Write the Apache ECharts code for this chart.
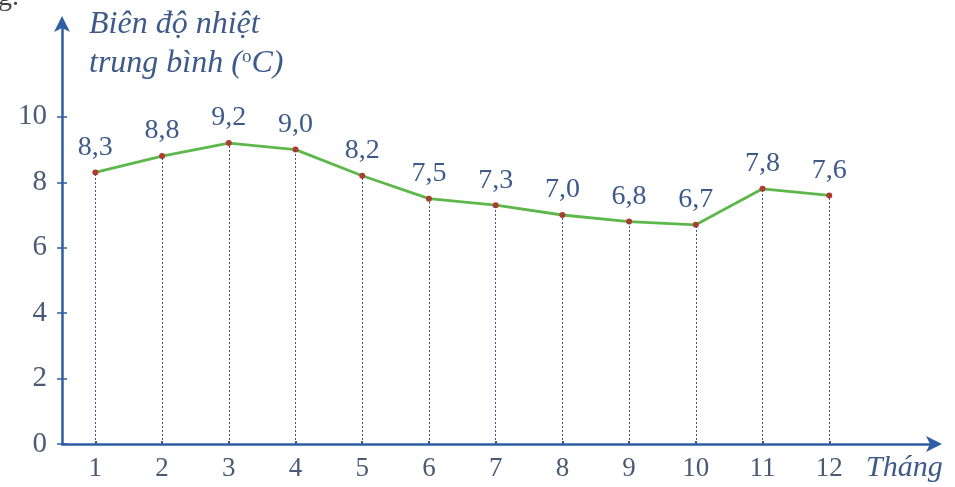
<!DOCTYPE html>
<html><head><meta charset="utf-8">
<script src="https://cdn.jsdelivr.net/npm/echarts@6/dist/echarts.min.js"></script>
<style>html,body{margin:0;padding:0;background:#fff}#c{width:955px;height:487px}</style>
</head><body><div id="c"></div>
<script>
const months = [1,2,3,4,5,6,7,8,9,10,11,12];
const amplitude = [8.3,8.8,9.2,9.0,8.2,7.5,7.3,7.0,6.8,6.7,7.8,7.6];
const yTicks = [0,2,4,6,8,10];
const yTitleLine1 = 'Biên độ nhiệt';
const xTitle = 'Tháng';

const axisColor = '#2f5ea3';
const textColor = '#3d5a8a';
const tickTextColor = '#4b5a74';
const serif = '"Liberation Serif","DejaVu Serif",serif';

const chart = echarts.init(document.getElementById('c'));
const pts = months.map((m,i)=>[m, amplitude[i]]);
const yCommon = {type:'value', min:0, max:12.9, splitLine:{show:false}};
chart.setOption({
  animation:false,
  grid:{left:62, right:19, top:22, bottom:43},
  xAxis:{type:'value', min:0.5, max:13.6,
    axisLine:{show:true, lineStyle:{color:axisColor, width:2.5}, symbol:['none','arrow'], symbolSize:[12,16], symbolOffset:[0,6]},
    axisTick:{show:true, customValues:months, length:3, inside:true, lineStyle:{color:axisColor, width:2}},
    axisLabel:{customValues:months, color:tickTextColor, fontFamily:serif, fontSize:27, margin:11},
    splitLine:{show:false}},
  yAxis:[Object.assign({}, yCommon, {
    axisLine:{show:true, lineStyle:{color:axisColor, width:2.5}, symbol:['none','arrow'], symbolSize:[12,16], symbolOffset:[0,6]},
    axisTick:{show:true, customValues:yTicks, length:5, lineStyle:{color:axisColor, width:1.5}},
    axisLabel:{customValues:yTicks, color:tickTextColor, fontFamily:serif, fontSize:29, margin:15}}),
    Object.assign({}, yCommon, {position:'left',
    axisLine:{show:false},
    axisTick:{show:true, inside:true, customValues:yTicks, length:5, lineStyle:{color:axisColor, width:1.5}},
    axisLabel:{show:false}})],
  graphic:[
    {type:'text', left:-2, top:-16, style:{text:'g.', font:'28px '+serif, fill:'#444'}},
    {type:'text', left:89, top:9, style:{text:yTitleLine1, font:'italic 32px '+serif, fill:textColor}},
    {type:'text', left:89, top:48, style:{
      text:'{a|trung bình (}{s|o}{a|C)}',
      rich:{a:{font:'italic 32px '+serif, fill:textColor},
            s:{font:'19px '+serif, fill:textColor, verticalAlign:'top', padding:[0,0,12,0]}}}},
    {type:'text', left:866, top:453, style:{text:xTitle, font:'italic 30px '+serif, fill:textColor}}
  ],
  series:[{
    type:'line', data:pts, symbol:'circle', symbolSize:6,
    itemStyle:{color:'#b23a2e'},
    lineStyle:{color:'#5cb84a', width:2.8},
    label:{show:true, position:'top', distance:8, color:textColor, fontFamily:serif, fontSize:28,
      formatter:p=>p.value[1].toFixed(1).replace('.',',')},
    markLine:{silent:true, symbol:['none','none'], label:{show:false},
      lineStyle:{color:'#35588f', type:[2,2], width:1},
      data: pts.map(p=>[{coord:[p[0],0]},{coord:[p[0],p[1]]}])},
    z:3
  }]
});
</script></body></html>
